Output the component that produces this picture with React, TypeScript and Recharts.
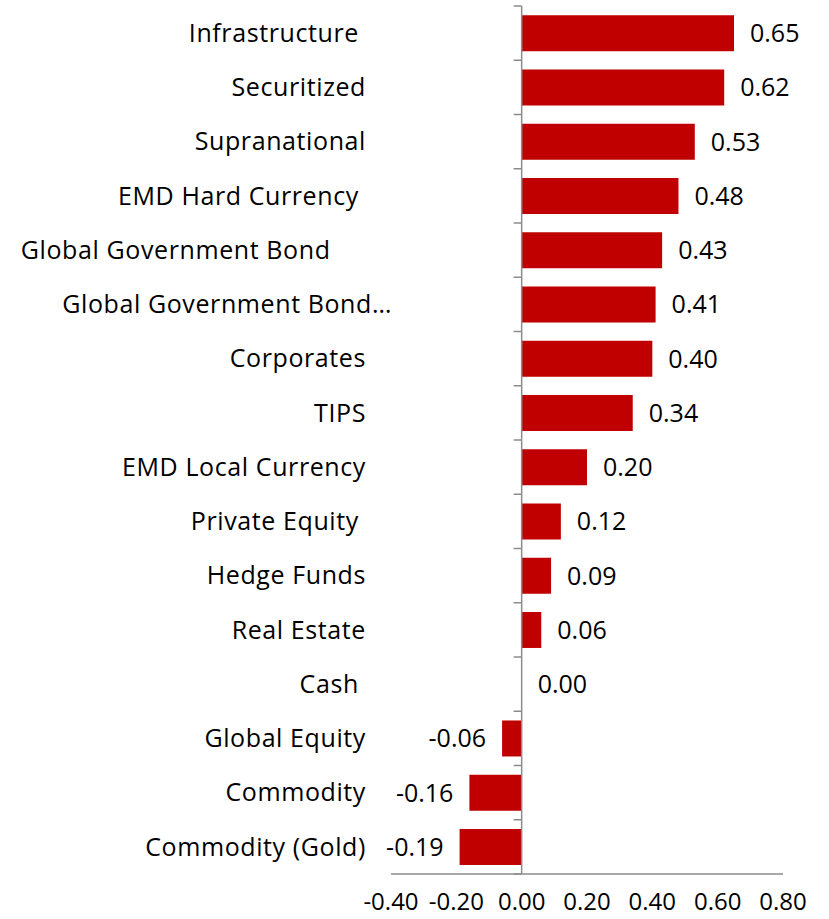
import React from 'react';
import {
  BarChart,
  Bar,
  XAxis,
  YAxis,
  ReferenceLine,
  LabelList,
} from 'recharts';

const NBSP = '\u00a0';

const categories = [
  'Infrastructure' + NBSP,
  'Securitized',
  'Supranational',
  'EMD Hard Currency' + NBSP,
  'Global Government Bond' + NBSP.repeat(5),
  'Global Government Bond…',
  'Corporates',
  'TIPS',
  'EMD Local Currency',
  'Private Equity' + NBSP,
  'Hedge Funds',
  'Real Estate',
  'Cash' + NBSP,
  'Global Equity',
  'Commodity',
  'Commodity (Gold)',
];

const values = [
  0.65, 0.62, 0.53, 0.48, 0.43, 0.41, 0.4, 0.34, 0.2, 0.12, 0.09, 0.06, 0.0,
  -0.06, -0.16, -0.19,
];

const xTicks = [-0.4, -0.2, 0, 0.2, 0.4, 0.6, 0.8];

const data = categories.map((name, i) => ({ name, value: values[i] }));

// layout
const WIDTH = 829;
const HEIGHT = 919;
const MARGIN = { top: 6, right: 46, bottom: 5, left: 0 };
const Y_AXIS_W = 391;
const X_AXIS_H = 40;
const PLOT_W = WIDTH - MARGIN.left - MARGIN.right - Y_AXIS_W;
const PLOT_H = HEIGHT - MARGIN.top - MARGIN.bottom - X_AXIS_H;
const X_MIN = -0.4;
const X_MAX = 0.8;
const ZERO_X = MARGIN.left + Y_AXIS_W + ((0 - X_MIN) / (X_MAX - X_MIN)) * PLOT_W;
const BAND = PLOT_H / categories.length;

const RED = '#C00000';
const GREY = '#8c8c8c';
const FONT = '"Open Sans", "Noto Sans", sans-serif';

function CategoryTick(props: any) {
  const { x, y, payload, index } = props;
  const label: string = payload.value;
  const shift = label.endsWith('…') ? 26 : 0;
  const last = index === categories.length - 1;
  return (
    <g>
      <text
        x={x + shift}
        y={y}
        dy="0.35em"
        textAnchor="end"
        fontSize={25}
        letterSpacing={0.6}
        fontFamily={FONT}
        fill="#000"
      >
        {label}
      </text>
      <line
        x1={ZERO_X - 8}
        x2={ZERO_X}
        y1={y - BAND / 2}
        y2={y - BAND / 2}
        stroke={GREY}
        strokeWidth={1.5}
      />
      {last && (
        <line
          x1={ZERO_X - 8}
          x2={ZERO_X}
          y1={y + BAND / 2}
          y2={y + BAND / 2}
          stroke={GREY}
          strokeWidth={1.5}
        />
      )}
    </g>
  );
}

function ValueLabel(props: any) {
  const { x, y, width, height, value } = props;
  const left = Math.min(x, x + width);
  const right = Math.max(x, x + width);
  const neg = value < 0;
  return (
    <text
      x={neg ? left - 16 : right + 16}
      y={y + height / 2}
      dy="0.36em"
      textAnchor={neg ? 'end' : 'start'}
      fontSize={25}
      fontFamily={FONT}
      fill="#000"
    >
      {Number(value).toFixed(2)}
    </text>
  );
}

export default function App() {
  return (
    <div
      style={{
        position: 'absolute',
        left: 0,
        top: 0,
        background: '#fff',
        width: WIDTH,
        height: HEIGHT,
      }}
    >
      <BarChart
        width={WIDTH}
        height={HEIGHT}
        data={data}
        layout="vertical"
        margin={MARGIN}
        barCategoryGap="17%"
      >
        <XAxis
          type="number"
          domain={[X_MIN, X_MAX]}
          ticks={xTicks}
          interval={0}
          height={X_AXIS_H}
          tickFormatter={(v: number) => v.toFixed(2)}
          tickLine={false}
          tickSize={0}
          tickMargin={19}
          axisLine={{ stroke: GREY, strokeWidth: 1.5 }}
          tick={{ fontSize: 24, fontFamily: FONT, fill: '#000' }}
          allowDataOverflow
        />
        <YAxis
          type="category"
          dataKey="name"
          width={Y_AXIS_W}
          interval={0}
          axisLine={false}
          tickLine={false}
          tickSize={0}
          tickMargin={25}
          tick={<CategoryTick />}
        />
        <ReferenceLine x={0} stroke={GREY} strokeWidth={1.5} ifOverflow="visible" />
        <Bar dataKey="value" fill={RED} minPointSize={0.01} isAnimationActive={false}>
          <LabelList dataKey="value" content={<ValueLabel />} />
        </Bar>
      </BarChart>
    </div>
  );
}
